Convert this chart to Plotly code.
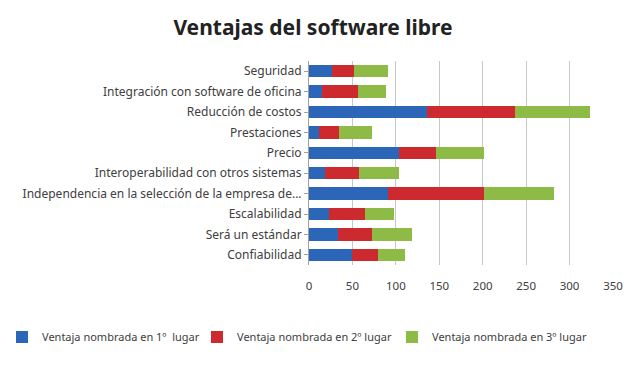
import plotly.graph_objects as go

categories = ["Seguridad", "Integración con software de oficina", "Reducción de costos",
              "Prestaciones", "Precio", "Interoperabilidad con otros sistemas",
              "Independencia en la selección de la empresa de...", "Escalabilidad",
              "Será un estándar", "Confiabilidad"]
lugar1 = [26, 15, 136, 11, 104, 18, 91, 23, 33, 50]
lugar2 = [26, 41, 101, 23, 42, 40, 111, 42, 40, 29]
lugar3 = [39, 33, 86, 39, 55, 46, 80, 33, 46, 31]
series_names = ["Ventaja nombrada en 1º  lugar", "Ventaja nombrada en 2º lugar",
                "Ventaja nombrada en 3º lugar"]
colors = ["#2B66B8", "#CC2A2E", "#8DBB45"]
x_ticks = [0, 50, 100, 150, 200, 250, 300, 350]

fig = go.Figure()
for name, vals, c in zip(series_names, [lugar1, lugar2, lugar3], colors):
    fig.add_trace(go.Bar(y=categories, x=vals, name=name, orientation="h",
                         marker=dict(color=c, line=dict(width=0)), width=0.6))

font = "Noto Sans"
fig.update_layout(
    barmode="stack",
    width=640, height=371,
    margin=dict(l=309, r=27, t=61, b=106, autoexpand=False),
    paper_bgcolor="white", plot_bgcolor="white",
    title=dict(text="<b>Ventajas del software libre</b>", x=313 / 640, xanchor="center",
               xref="container", y=1 - 28 / 371, yanchor="middle", yref="container",
               font=dict(family=font, size=21, color="#222222")),
    xaxis=dict(range=[0, 350], tickvals=x_ticks, showgrid=True, gridcolor="#C8C8C8",
               gridwidth=1, zeroline=False, showline=False,
               tickfont=dict(family=font, size=11.5, color="#404040"), ticks="",
               ticklabelstandoff=12),
    yaxis=dict(autorange="reversed", showline=True, linecolor="#A0A0A0",
               ticks="outside", ticklen=4, tickcolor="#A0A0A0",
               tickfont=dict(family=font, size=12, color="#404040")),
    legend=dict(orientation="h", x=(2 - 309) / 304, xanchor="left",
                y=-72 / 204, yanchor="middle",
                font=dict(family=font, size=11, color="#404040"),
                itemwidth=30, traceorder="normal",
                entrywidth=150, entrywidthmode="pixels"),
    showlegend=True,
)
fig.write_html("out.html")
